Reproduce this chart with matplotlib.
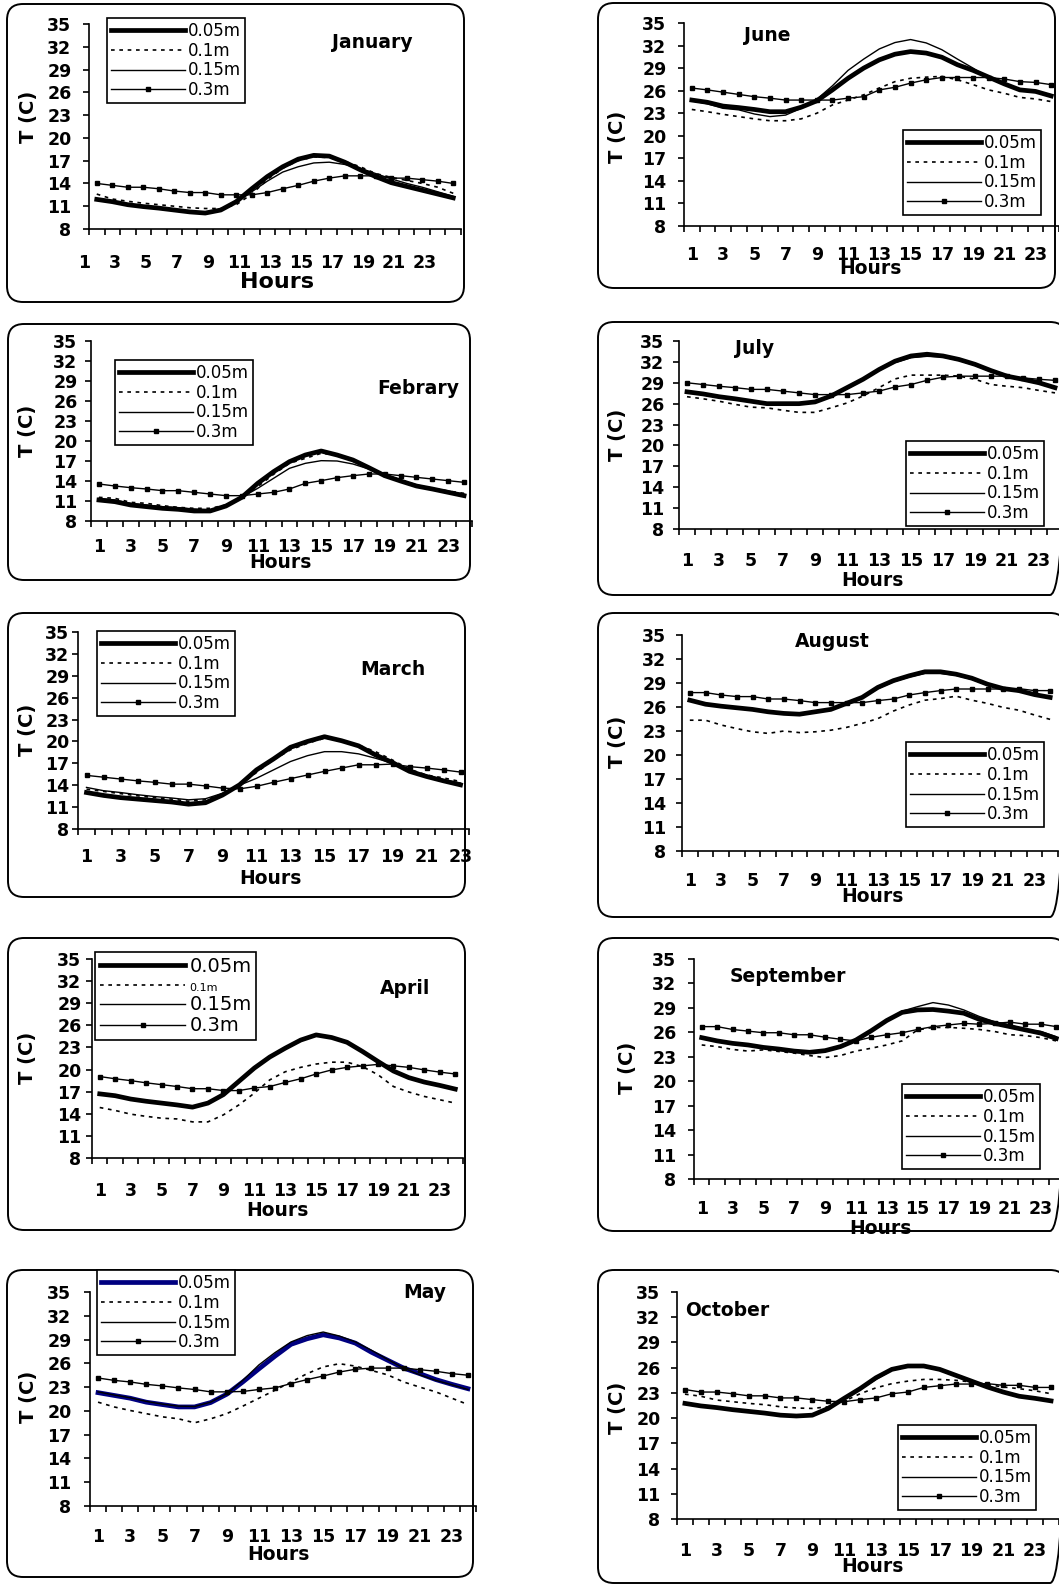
import matplotlib
matplotlib.use('Agg')
import matplotlib.pyplot as plt
from matplotlib.patches import FancyBboxPatch
from matplotlib.transforms import ScaledTranslation

W, H = 1059, 1586

depths = ['0.05m', '0.1m', '0.15m', '0.3m']

# hourly soil temperatures (C), one list per depth and month
jan_005 = [11.9, 11.6, 11.2, 10.95, 10.75, 10.5, 10.25, 10.1, 10.5, 11.6, 13.3, 14.9, 16.2, 17.2, 17.7, 17.6, 16.8, 15.8, 14.9, 14.1, 13.6, 13.1, 12.6, 12.1]
jan_01 = [12.6, 11.95, 11.65, 11.4, 11.2, 11.0, 10.8, 10.7, 10.7, 11.2, 12.6, 14.5, 16.0, 17.0, 17.5, 17.4, 16.9, 16.2, 15.3, 14.8, 14.4, 14.0, 13.5, 12.7]
jan_015 = [11.95, 11.65, 11.25, 11.0, 10.8, 10.55, 10.3, 10.15, 10.5, 11.5, 12.9, 14.3, 15.5, 16.2, 16.7, 16.8, 16.5, 16.0, 15.3, 14.6, 14.0, 13.5, 12.9, 12.3]
jan_03 = [14.0, 13.75, 13.5, 13.5, 13.3, 13.0, 12.8, 12.8, 12.5, 12.5, 12.5, 12.8, 13.3, 13.75, 14.3, 14.7, 15.0, 15.0, 15.0, 14.7, 14.7, 14.5, 14.3, 14.0]

feb_005 = [11.15, 10.9, 10.4, 10.15, 9.9, 9.75, 9.5, 9.5, 10.25, 11.55, 13.65, 15.4, 16.9, 17.9, 18.5, 17.9, 17.15, 16.0, 14.8, 14.0, 13.25, 12.8, 12.3, 11.8]
feb_01 = [11.55, 11.4, 10.8, 10.65, 10.3, 10.05, 9.9, 9.9, 10.4, 11.55, 13.15, 15.0, 16.65, 17.4, 18.15, 17.9, 17.15, 16.05, 14.9, 14.15, 13.4, 12.9, 12.5, 12.15]
feb_015 = [11.4, 11.15, 10.65, 10.4, 10.15, 10.0, 9.8, 9.65, 10.3, 11.55, 12.9, 14.4, 15.9, 16.65, 17.05, 17.0, 16.55, 15.8, 15.0, 14.15, 13.4, 12.9, 12.5, 12.0]
feb_03 = [13.55, 13.25, 13.0, 12.8, 12.55, 12.55, 12.3, 12.05, 11.8, 11.8, 12.05, 12.3, 12.8, 13.65, 14.05, 14.5, 14.8, 15.05, 15.05, 14.8, 14.55, 14.3, 14.05, 13.8]

mar_005 = [13.0, 12.6, 12.3, 12.1, 11.9, 11.7, 11.4, 11.6, 12.65, 14.05, 16.1, 17.6, 19.2, 20.0, 20.65, 20.1, 19.4, 18.15, 17.1, 15.9, 15.2, 14.6, 14.05]
mar_01 = [13.45, 13.15, 12.85, 12.55, 12.3, 12.1, 11.8, 12.0, 12.8, 14.0, 15.75, 17.5, 18.85, 19.75, 20.45, 20.1, 19.5, 18.6, 17.45, 16.2, 15.4, 15.0, 14.5]
mar_015 = [13.7, 13.25, 13.0, 12.7, 12.45, 12.25, 12.0, 12.15, 12.9, 14.0, 14.95, 16.1, 17.25, 18.05, 18.6, 18.6, 18.3, 17.7, 17.0, 16.1, 15.35, 14.75, 14.3]
mar_03 = [15.35, 15.1, 14.85, 14.6, 14.4, 14.15, 14.15, 13.9, 13.6, 13.5, 13.85, 14.4, 14.9, 15.4, 15.9, 16.35, 16.8, 16.8, 16.9, 16.55, 16.35, 16.1, 15.8]

apr_005 = [16.7, 16.45, 16.0, 15.7, 15.45, 15.2, 14.9, 15.45, 16.6, 18.4, 20.2, 21.7, 22.9, 24.0, 24.7, 24.35, 23.7, 22.45, 21.1, 19.8, 18.9, 18.3, 17.85, 17.35]
apr_01 = [14.85, 14.45, 13.95, 13.65, 13.4, 13.3, 12.9, 12.9, 13.85, 15.2, 16.8, 18.6, 19.7, 20.3, 20.75, 21.0, 21.0, 20.4, 19.3, 17.7, 16.95, 16.35, 15.9, 15.45]
apr_015 = [16.7, 16.4, 16.0, 15.7, 15.4, 15.2, 14.9, 15.4, 16.6, 18.4, 20.2, 21.7, 22.9, 24.0, 24.6, 24.3, 23.7, 22.4, 21.1, 19.8, 18.9, 18.3, 17.8, 17.3]
apr_03 = [19.05, 18.75, 18.5, 18.2, 17.95, 17.7, 17.4, 17.4, 17.15, 17.15, 17.5, 17.7, 18.25, 18.75, 19.4, 19.95, 20.3, 20.5, 20.7, 20.5, 20.3, 19.95, 19.65, 19.4]

may_005 = [22.3, 21.95, 21.6, 21.1, 20.8, 20.5, 20.5, 21.05, 22.1, 23.65, 25.3, 26.9, 28.4, 29.1, 29.6, 29.2, 28.55, 27.4, 26.4, 25.4, 24.7, 23.95, 23.35, 22.8]
may_01 = [21.1, 20.5, 20.05, 19.65, 19.25, 19.0, 18.5, 19.0, 19.65, 20.6, 21.6, 22.6, 23.65, 24.7, 25.55, 25.95, 25.65, 25.1, 24.55, 23.65, 23.0, 22.4, 21.6, 20.8]
may_015 = [22.4, 22.0, 21.65, 21.2, 20.85, 20.6, 20.55, 21.1, 22.15, 23.85, 25.8, 27.35, 28.7, 29.5, 29.95, 29.45, 28.7, 27.65, 26.5, 25.4, 24.55, 23.85, 23.3, 22.7]
may_03 = [24.15, 23.85, 23.65, 23.35, 23.15, 22.9, 22.7, 22.4, 22.4, 22.45, 22.7, 22.9, 23.45, 23.95, 24.4, 24.9, 25.25, 25.4, 25.4, 25.4, 25.2, 25.0, 24.7, 24.5]

jun_005 = [24.75, 24.45, 23.95, 23.75, 23.5, 23.2, 23.2, 23.8, 24.65, 26.1, 27.65, 29.0, 30.1, 30.85, 31.2, 31.0, 30.45, 29.45, 28.7, 27.8, 26.9, 26.1, 25.9, 25.3]
jun_01 = [23.5, 23.2, 22.85, 22.55, 22.25, 22.0, 22.0, 22.25, 23.0, 24.1, 24.75, 25.45, 26.35, 27.2, 27.65, 27.8, 27.9, 27.45, 26.8, 26.1, 25.65, 25.1, 24.9, 24.55]
jun_015 = [24.65, 24.25, 23.65, 23.45, 22.9, 22.55, 22.75, 23.65, 24.85, 26.65, 28.7, 30.2, 31.55, 32.4, 32.8, 32.35, 31.45, 30.2, 29.0, 27.65, 26.85, 26.2, 25.9, 25.45]
jun_03 = [26.35, 26.1, 25.8, 25.5, 25.2, 25.0, 24.75, 24.75, 24.75, 24.75, 25.0, 25.2, 26.1, 26.45, 27.0, 27.45, 27.75, 27.75, 27.75, 27.75, 27.55, 27.2, 27.1, 26.8]

jul_005 = [27.7, 27.4, 27.0, 26.7, 26.35, 26.0, 26.0, 26.0, 26.25, 27.1, 28.3, 29.5, 30.9, 32.1, 32.85, 33.1, 32.85, 32.35, 31.65, 30.75, 29.95, 29.5, 29.0, 28.3]
jul_01 = [27.0, 26.7, 26.35, 25.9, 25.5, 25.4, 25.05, 24.75, 24.75, 25.4, 26.1, 27.1, 28.3, 29.55, 30.1, 30.1, 30.1, 29.95, 29.5, 28.75, 28.5, 28.3, 27.9, 27.55]
jul_015 = [27.6, 27.3, 26.9, 26.6, 26.3, 25.9, 25.9, 25.9, 26.2, 27.0, 28.2, 29.4, 30.8, 31.9, 32.6, 32.8, 32.7, 32.2, 31.5, 30.6, 29.9, 29.4, 28.9, 28.2]
jul_03 = [29.0, 28.75, 28.5, 28.3, 28.05, 28.05, 27.8, 27.55, 27.3, 27.3, 27.3, 27.55, 27.8, 28.4, 28.75, 29.35, 29.8, 29.95, 29.95, 29.95, 29.95, 29.7, 29.5, 29.35]

aug_005 = [26.85, 26.35, 26.1, 25.9, 25.7, 25.4, 25.2, 25.1, 25.4, 25.7, 26.45, 27.2, 28.45, 29.3, 29.9, 30.4, 30.4, 30.1, 29.6, 28.85, 28.3, 28.05, 27.55, 27.2]
aug_01 = [24.35, 24.35, 23.75, 23.3, 22.9, 22.7, 23.0, 22.8, 22.9, 23.1, 23.45, 23.95, 24.55, 25.5, 26.25, 26.85, 27.05, 27.35, 26.85, 26.45, 25.95, 25.6, 25.0, 24.45]
aug_015 = [26.8, 26.3, 26.05, 25.85, 25.65, 25.35, 25.15, 25.05, 25.35, 25.65, 26.4, 27.1, 28.3, 29.15, 29.75, 30.2, 30.2, 29.95, 29.45, 28.75, 28.25, 28.0, 27.5, 27.15]
aug_03 = [27.8, 27.8, 27.5, 27.3, 27.3, 27.0, 27.0, 26.8, 26.55, 26.55, 26.55, 26.55, 26.8, 27.0, 27.5, 27.8, 28.05, 28.25, 28.25, 28.25, 28.25, 28.3, 28.05, 28.05]

sep_005 = [25.35, 24.95, 24.65, 24.45, 24.15, 23.95, 23.7, 23.55, 23.75, 24.25, 25.05, 26.2, 27.45, 28.45, 28.75, 28.8, 28.6, 28.35, 27.6, 27.1, 26.7, 26.3, 25.9, 25.25]
sep_01 = [24.45, 24.25, 23.9, 23.7, 23.85, 23.65, 23.45, 23.15, 22.9, 23.15, 23.7, 24.05, 24.45, 24.95, 26.3, 26.6, 26.6, 26.5, 26.35, 26.1, 25.7, 25.6, 25.35, 24.95]
sep_015 = [25.45, 25.05, 24.7, 24.5, 24.2, 24.0, 23.75, 23.6, 23.8, 24.3, 25.1, 26.3, 27.5, 28.6, 29.15, 29.65, 29.35, 28.75, 27.95, 27.3, 26.9, 26.35, 26.1, 25.45]
sep_03 = [26.7, 26.7, 26.35, 26.15, 25.95, 25.95, 25.7, 25.7, 25.4, 25.15, 24.95, 25.4, 25.7, 25.95, 26.35, 26.7, 26.9, 27.1, 27.0, 27.1, 27.25, 27.0, 27.0, 26.7]

oct_005 = [21.75, 21.45, 21.25, 21.0, 20.8, 20.6, 20.35, 20.25, 20.35, 21.15, 22.35, 23.5, 24.8, 25.8, 26.2, 26.2, 25.8, 25.1, 24.4, 23.7, 23.1, 22.6, 22.35, 22.05]
oct_01 = [22.85, 22.6, 22.15, 21.95, 21.75, 21.6, 21.35, 21.2, 21.15, 21.35, 22.0, 22.9, 23.6, 24.1, 24.4, 24.6, 24.6, 24.5, 24.3, 24.0, 23.7, 23.5, 23.25, 22.9]
oct_015 = [21.85, 21.5, 21.3, 21.05, 20.85, 20.65, 20.4, 20.3, 20.4, 21.1, 22.2, 23.4, 24.6, 25.7, 26.1, 26.1, 25.7, 25.0, 24.3, 23.6, 23.0, 22.5, 22.25, 22.0]
oct_03 = [23.4, 23.1, 23.1, 22.9, 22.65, 22.65, 22.4, 22.4, 22.2, 22.0, 21.95, 22.2, 22.4, 22.9, 23.1, 23.65, 23.85, 24.05, 24.05, 24.1, 23.9, 23.9, 23.65, 23.65]

# layout in pixels: box (l,t,r,b), axes (l,r,t,b), legend top-left, title/label centres
panels = [
    dict(name='January', data=[jan_005, jan_01, jan_015, jan_03], box=(7, 4, 464, 302), ax=(89, 461, 24, 229),
         leg=(107, 18), title=(372, 42), ylab=(28, 117), xlab=(277, 282), xsize=16, xgap=34, ygap=17, shift=-13),
    dict(name='Febrary', data=[feb_005, feb_01, feb_015, feb_03], box=(8, 324, 470, 580), ax=(91, 472, 341, 521),
         leg=(115, 360), title=(418, 388), ylab=(28, 431), xlab=(280, 563), xsize=13.5, xgap=27, ygap=13, shift=0),
    dict(name='March', data=[mar_005, mar_01, mar_015, mar_03], box=(8, 613, 465, 897), ax=(78, 469, 632, 829),
         leg=(97, 631), title=(393, 670), ylab=(28, 730), xlab=(270, 878), xsize=13.5, xgap=29, ygap=8, shift=0),
    dict(name='April', data=[apr_005, apr_01, apr_015, apr_03], box=(8, 938, 465, 1230), ax=(92, 463, 959, 1158),
         leg=(95, 952), title=(405, 988), ylab=(28, 1058), xlab=(277, 1211), xsize=13.5, xgap=34, ygap=10, shift=0),
    dict(name='May', data=[may_005, may_01, may_015, may_03], box=(7, 1270, 473, 1577), ax=(90, 476, 1292, 1506),
         leg=(97, 1270), title=(425, 1292), ylab=(28, 1397), xlab=(278, 1555), xsize=13.5, xgap=32, ygap=18, shift=0),
    dict(name='June', data=[jun_005, jun_01, jun_015, jun_03], box=(598, 3, 1055, 288), ax=(684, 1059, 23, 226),
         leg=(903, 130), title=(767, 35), ylab=(618, 137), xlab=(870, 268), xsize=13.5, xgap=29, ygap=17, shift=0),
    dict(name='July', data=[jul_005, jul_01, jul_015, jul_03], box=(598, 322, 1066, 595), ax=(679, 1063, 341, 529),
         leg=(906, 441), title=(755, 348), ylab=(617, 435), xlab=(872, 581), xsize=13.5, xgap=32, ygap=14, shift=0),
    dict(name='August', data=[aug_005, aug_01, aug_015, aug_03], box=(598, 613, 1066, 917), ax=(682, 1058, 635, 851),
         leg=(906, 742), title=(832, 641), ylab=(618, 742), xlab=(872, 897), xsize=13.5, xgap=31, ygap=15, shift=0),
    dict(name='September', data=[sep_005, sep_01, sep_015, sep_03], box=(598, 938, 1066, 1231), ax=(694, 1064, 959, 1179),
         leg=(902, 1084), title=(788, 977), ylab=(627, 1068), xlab=(880, 1228), xsize=13.5, xgap=31, ygap=17, shift=0),
    dict(name='October', data=[oct_005, oct_01, oct_015, oct_03], box=(598, 1270, 1066, 1583), ax=(677, 1059, 1292, 1519),
         leg=(898, 1425), title=(727, 1310), ylab=(618, 1408), xlab=(872, 1567), xsize=13.5, xgap=33, ygap=16, shift=0),
]

fig = plt.figure(figsize=(W / 100, H / 100), dpi=100)
bg = fig.add_axes([0, 0, 1, 1])
bg.set_xlim(0, W)
bg.set_ylim(H, 0)
bg.axis('off')

for p in panels:
    l, t, r, b = p['box']
    bg.add_patch(FancyBboxPatch((l, t), r - l, b - t, boxstyle='round,pad=0,rounding_size=16',
                                fc='none', ec='black', lw=1.4))

    al, ar, at, ab = p['ax']
    ax = fig.add_axes([al / W, 1 - ab / H, (ar - al) / W, (ab - at) / H])
    ax.patch.set_alpha(0)

    def to_ax(px, py):
        return ((px - al) / (ar - al), (ab - py) / (ab - at))

    s005, s01, s015, s03 = p['data']
    n = len(s005)
    x = list(range(1, n + 1))
    thick_col = '#000080' if p['name'] == 'May' else 'black'
    lines = [
        ax.plot(x, s005, color=thick_col, lw=3.4)[0],
        ax.plot(x, s01, color='black', lw=1.2, ls=(0, (2.2, 2.8)))[0],
        ax.plot(x, s015, color='black', lw=1.0)[0],
        ax.plot(x, s03, color='black', lw=1.0, marker='s', ms=3.5)[0],
    ]

    ax.set_xlim(0.5, n + 0.5)
    ax.set_ylim(8, 35)
    ax.set_yticks(range(8, 36, 3))
    ax.set_xticks(range(1, n + 1, 2))
    ax.set_xticks([k + 0.5 for k in range(n + 1)], minor=True)
    ax.tick_params(axis='x', which='major', length=0, pad=(p['xgap'] - 9.5) * 0.72, labelsize=12.5)
    ax.tick_params(axis='x', which='minor', length=4, width=1.2, direction='out')
    ax.tick_params(axis='y', length=4, width=1.2, direction='out', pad=(p['ygap'] - 5) * 0.72, labelsize=12.5)
    for lab in ax.get_xticklabels() + ax.get_yticklabels():
        lab.set_fontweight('bold')
    if p['shift']:
        off = ScaledTranslation(p['shift'] / 100, 0, fig.dpi_scale_trans)
        for lab in ax.get_xticklabels():
            lab.set_transform(lab.get_transform() + off)
    for side in ['top', 'right']:
        ax.spines[side].set_visible(False)
    for side in ['left', 'bottom']:
        ax.spines[side].set_linewidth(1.2)

    ax.set_ylabel('T (C)', fontsize=14, fontweight='bold', va='center')
    ax.yaxis.set_label_coords(*to_ax(*p['ylab']))
    ax.set_xlabel('Hours', fontsize=p['xsize'], fontweight='bold', va='center')
    ax.xaxis.set_label_coords(*to_ax(*p['xlab']))
    tx, ty = to_ax(*p['title'])
    ax.text(tx, ty, p['name'], transform=ax.transAxes, ha='center', va='center',
            fontsize=13.5, fontweight='bold')

    fs = 14 if p['name'] == 'April' else 12
    leg = ax.legend(lines, depths, loc='upper left', bbox_to_anchor=to_ax(*p['leg']), borderaxespad=0,
                    fontsize=fs, handlelength=4.4, handletextpad=0.2, borderpad=0.25, labelspacing=0.1,
                    fancybox=False, framealpha=1, edgecolor='black')
    leg.get_frame().set_linewidth(1.2)
    if p['name'] == 'April':
        leg.get_texts()[1].set_fontsize(8)

fig.savefig('out.png', dpi=100, facecolor='white')
